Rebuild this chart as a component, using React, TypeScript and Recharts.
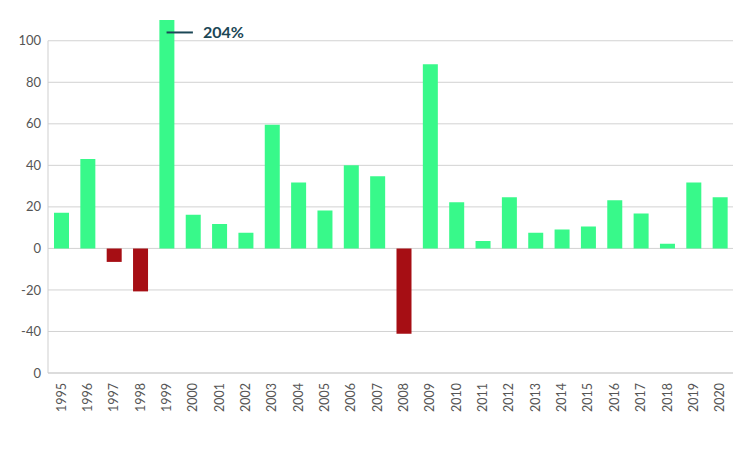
import { BarChart, Bar, XAxis, YAxis, CartesianGrid, Cell, ReferenceLine } from "recharts";

const years = [
  "1995", "1996", "1997", "1998", "1999", "2000", "2001", "2002", "2003",
  "2004", "2005", "2006", "2007", "2008", "2009", "2010", "2011", "2012",
  "2013", "2014", "2015", "2016", "2017", "2018", "2019", "2020",
];

// annual return, %
const returns = [
  17.2, 43.1, -6.5, -20.7, 204, 16.2, 11.7, 7.6, 59.5, 31.7, 18.2, 40, 34.7,
  -41.1, 88.7, 22.2, 3.6, 24.6, 7.6, 9.1, 10.6, 23.2, 16.8, 2.2, 31.7, 24.6,
];

const yTicks = [-60, -40, -20, 0, 20, 40, 60, 80, 100];
const yDomain = [-60, 110];

// off-scale callout for 1999
const calloutFrom = "1999";
const calloutTo = "2000";
const calloutLevel = 104;
const calloutText = "204%";

const data = years.map((year, i) => ({ year, value: returns[i] }));

const FONT = "Lato, 'Open Sans', sans-serif";

function YearTick({ x, y, payload }: any) {
  return (
    <text
      x={x}
      y={y}
      dy="0.35em"
      transform={`rotate(-90, ${x}, ${y})`}
      textAnchor="end"
      fill="#555"
      fontSize={12.5}
      fontFamily={FONT}
    >
      {payload.value}
    </text>
  );
}

export default function App() {
  return (
    <div style={{ position: "absolute", left: 0, top: 0, width: 748, height: 451, background: "#fff" }}>
      <BarChart
        width={748}
        height={451}
        data={data}
        margin={{ top: 20, right: 15, bottom: 0, left: 0 }}
        barCategoryGap={0}
      >
        <CartesianGrid vertical={false} horizontalValues={yTicks} stroke="#d2d2d2" strokeWidth={1} />
        <XAxis
          dataKey="year"
          interval={0}
          tickLine={false}
          tickMargin={4}
          axisLine={{ stroke: "#cfcfcf" }}
          tick={<YearTick />}
          height={78}
        />
        <YAxis
          type="number"
          domain={yDomain}
          ticks={yTicks}
          allowDataOverflow
          axisLine={false}
          tickLine={false}
          tickMargin={1}
          width={48}
          tick={{ fill: "#555", fontSize: 13, fontFamily: FONT }}
          tickFormatter={(v: number) => (v === -60 ? "0" : String(v))}
        />
        <ReferenceLine
          segment={[
            { x: years[0], y: 100 },
            { x: years[0], y: -60 },
          ]}
          position="start"
          stroke="#cfcfcf"
          strokeWidth={1}
        />
        <Bar dataKey="value" barSize={15} isAnimationActive={false}>
          {data.map((d) => (
            <Cell key={d.year} fill={d.value < 0 ? "#a60e14" : "#38f98a"} />
          ))}
        </Bar>
        <ReferenceLine
          segment={[
            { x: calloutFrom, y: calloutLevel },
            { x: calloutTo, y: calloutLevel },
          ]}
          stroke="#1b4756"
          strokeWidth={2}
          label={{
            value: calloutText,
            position: "right",
            offset: 10,
            fill: "#1b4756",
            fontSize: 16,
            fontWeight: 700,
            fontFamily: FONT,
          }}
        />
      </BarChart>
    </div>
  );
}
